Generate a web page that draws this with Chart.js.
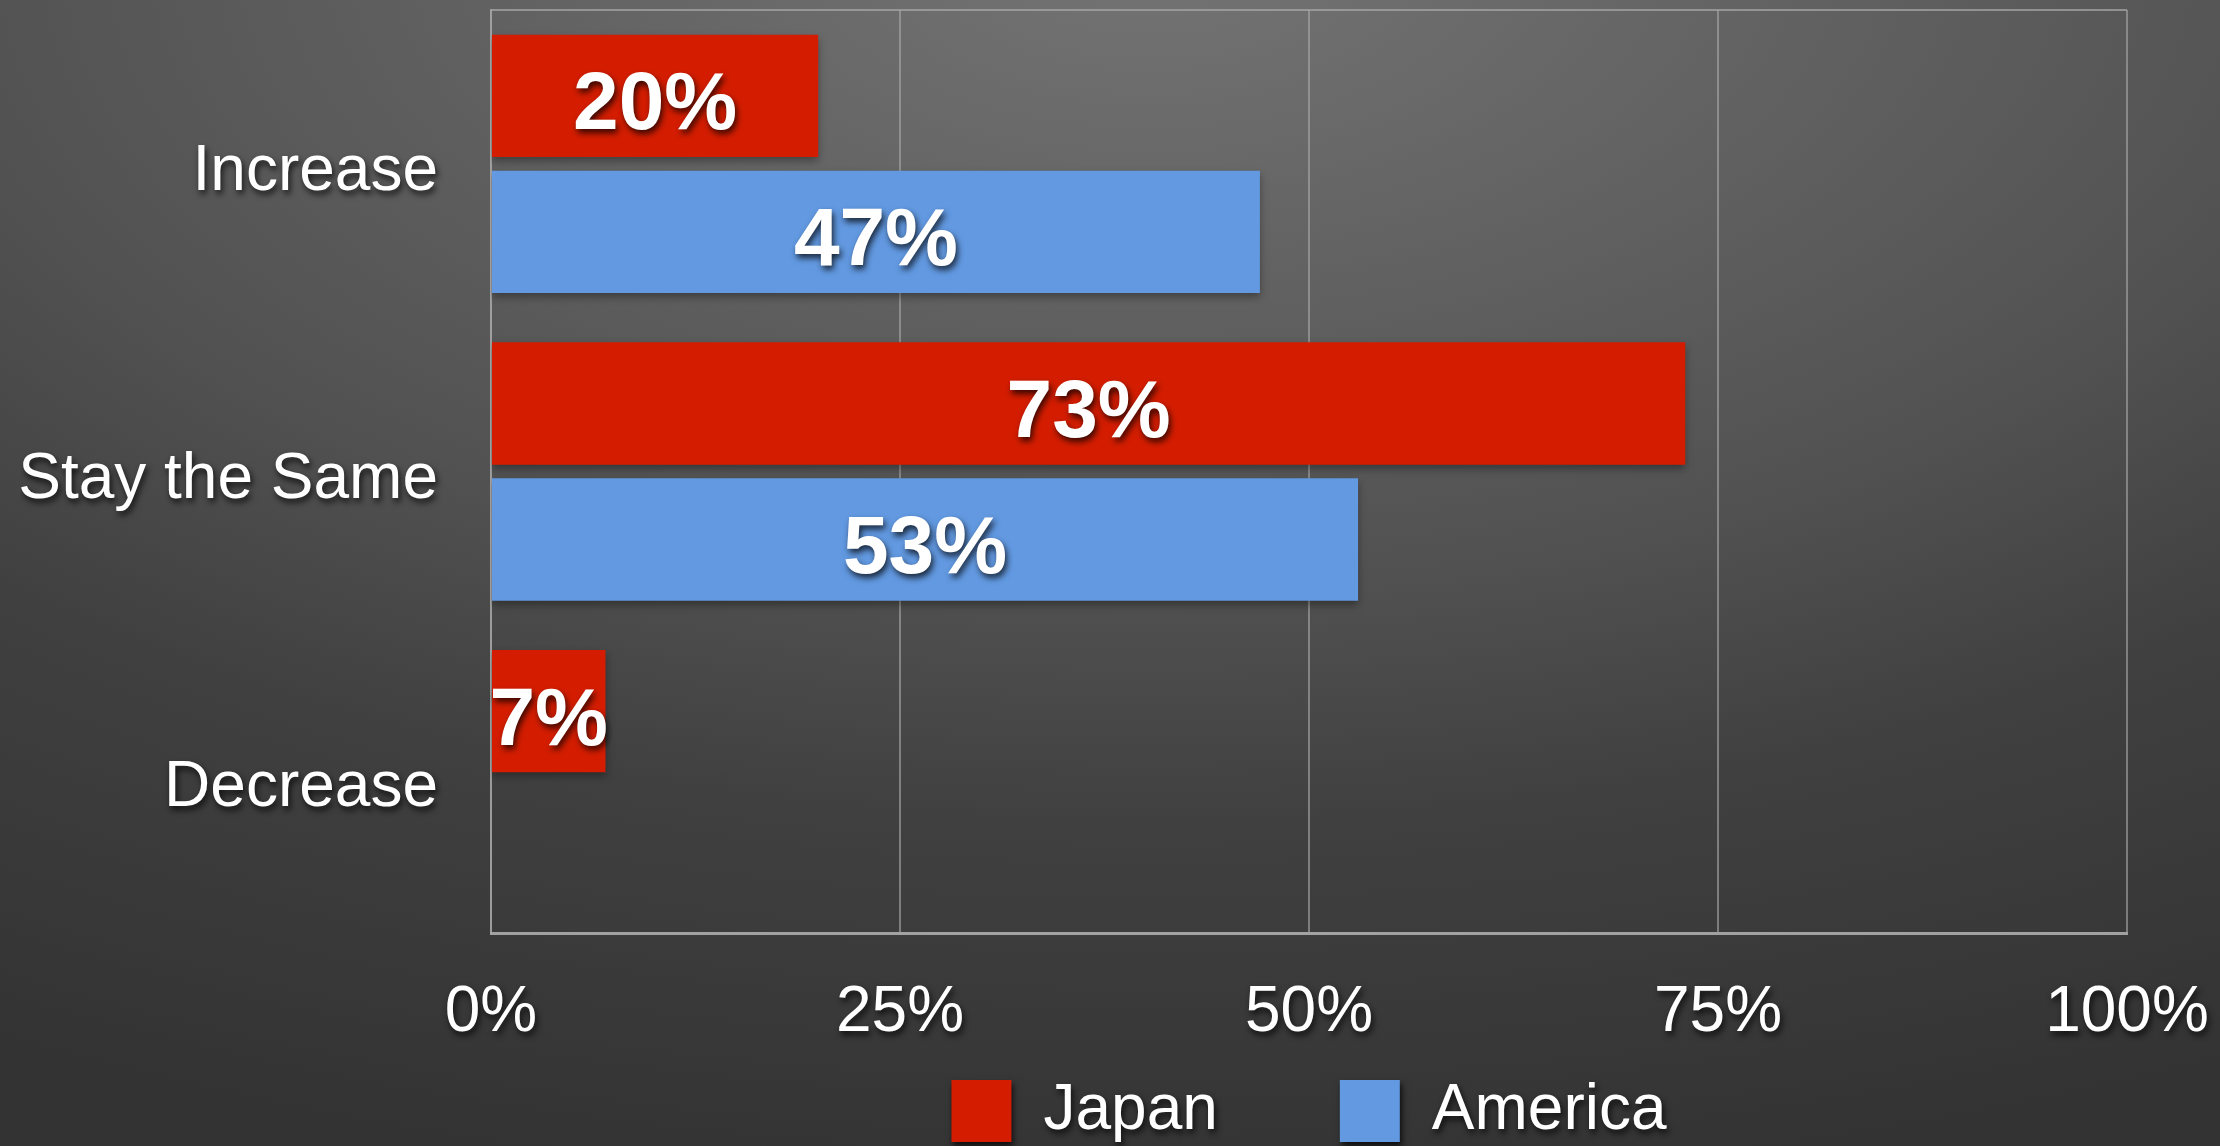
<!DOCTYPE html>
<html lang="en">
<head>
<meta charset="UTF-8">
<title>Japan vs America</title>
<script src="https://cdn.jsdelivr.net/npm/chart.js"></script>
<style>
    html, body {
        margin: 0;
        padding: 0;
    }
    body {
        width: 2220px;
        height: 1146px;
        overflow: hidden;
        background: radial-gradient(ellipse 2400px 1250px at 1150px -50px, #747474 0%, #6c6c6c 12%, #525252 50%, #404040 70%, #333333 100%);
    }
    .wrap {
        position: relative;
        width: 2220px;
        height: 1146px;
    }
</style>
</head>
<body>
<div class="wrap"><canvas id="chart"></canvas></div>
<script>
const categories = ['Increase', 'Stay the Same', 'Decrease'];
const japan = [20, 73, 7];
const america = [47, 53, 0];
const xTicks = [0, 25, 50, 75, 100];

const FONT = '"Liberation Sans", Arial, Helvetica, sans-serif';
const RED = '#d41d00';
const BLUE = '#6299e1';
const LEGEND_GAP = 122;   // horizontal space between legend items

function textShadow(c) {
    c.shadowColor = 'rgba(0,0,0,0.75)';
    c.shadowBlur = 6;
    c.shadowOffsetX = 2;
    c.shadowOffsetY = 4;
}

// white labels get a soft drop shadow, bars a lighter one
const shadowPlugin = {
    id: 'shadows',
    beforeInit(chart) {
        const lg = chart.legend;
        if (!lg) return;
        // keep the legend band short; the big label padding is only wanted sideways
        const fit = lg.fit;
        lg.fit = function (...args) {
            fit.apply(this, args);
            this.height = 73;
        };
        const draw = lg.draw;
        lg.draw = function (...args) {
            const top = this.top;
            this.top = top - LEGEND_GAP + 6;
            const c = this.ctx;
            c.save();
            textShadow(c);
            draw.apply(this, args);
            c.restore();
            this.top = top;
        };
    },
    afterLayout(chart) {
        [chart.scales.x, chart.scales.y].forEach(box => {
            if (!box || box._shadowed) return;
            const orig = box.drawLabels;
            box.drawLabels = function (...args) {
                const c = this.ctx;
                c.save();
                textShadow(c);
                orig.apply(this, args);
                c.restore();
            };
            box._shadowed = true;
        });
    },
    beforeDatasetsDraw(chart) {
        const c = chart.ctx;
        c.save();
        c.shadowColor = 'rgba(0,0,0,0.35)';
        c.shadowBlur = 8;
        c.shadowOffsetY = 4;
    },
    afterDatasetsDraw(chart) {
        const c = chart.ctx;
        c.restore();

        // top edge of the frame
        const a = chart.chartArea;
        c.save();
        c.strokeStyle = 'rgba(170,170,170,0.7)';
        c.lineWidth = 2;
        c.beginPath();
        c.moveTo(a.left, a.top);
        c.lineTo(a.right, a.top);
        c.stroke();
        c.restore();

        // value labels centred on each bar
        c.save();
        textShadow(c);
        c.fillStyle = '#fff';
        c.font = 'bold 82px ' + FONT;
        c.textAlign = 'center';
        c.textBaseline = 'middle';
        chart.data.datasets.forEach((ds, i) => {
            chart.getDatasetMeta(i).data.forEach((bar, j) => {
                const v = ds.data[j];
                if (!v) return;
                c.fillText(v + '%', (bar.x + bar.base) / 2, bar.y + 11);
            });
        });
        c.restore();
    }
};

new Chart(document.getElementById('chart'), {
    type: 'bar',
    data: {
        labels: categories,
        datasets: [
            {
                label: 'Japan',
                data: japan,
                backgroundColor: RED,
                categoryPercentage: 0.884,
                barPercentage: 0.9
            },
            {
                label: 'America',
                data: america,
                backgroundColor: BLUE,
                categoryPercentage: 0.884,
                barPercentage: 0.9
            }
        ]
    },
    options: {
        indexAxis: 'y',
        responsive: true,
        maintainAspectRatio: false,
        animation: false,
        layout: { padding: { left: 20, right: 93, top: 10, bottom: 0 } },
        scales: {
            x: {
                min: 0,
                max: 100,
                afterBuildTicks: s => { s.ticks = xTicks.map(v => ({ value: v })); },
                afterFit: s => {
                    s.height = 140;
                    s.paddingLeft = 0;
                    s.paddingRight = 0;
                },
                grid: { color: 'rgba(170,170,170,0.6)', lineWidth: 2, drawTicks: false },
                border: { color: 'rgba(180,180,180,0.85)', width: 3 },
                ticks: {
                    color: '#fff',
                    padding: 42,
                    font: { family: FONT, size: 64 },
                    callback: v => v + '%'
                }
            },
            y: {
                afterFit: s => {
                    s.width = 471;
                    s.paddingTop = 0;
                    s.paddingBottom = 0;
                },
                grid: { display: false, drawTicks: false },
                border: { color: 'rgba(170,170,170,0.7)', width: 2 },
                ticks: {
                    color: '#fff',
                    padding: 53,
                    labelOffset: 9,
                    font: { family: FONT, size: 64 }
                }
            }
        },
        plugins: {
            legend: {
                position: 'bottom',
                fullSize: false,
                labels: {
                    color: '#fff',
                    boxWidth: 60,
                    boxHeight: 62,
                    padding: LEGEND_GAP,
                    font: { family: FONT, size: 64 }
                }
            },
            tooltip: { enabled: false }
        }
    },
    plugins: [shadowPlugin]
});
</script>
</body>
</html>
